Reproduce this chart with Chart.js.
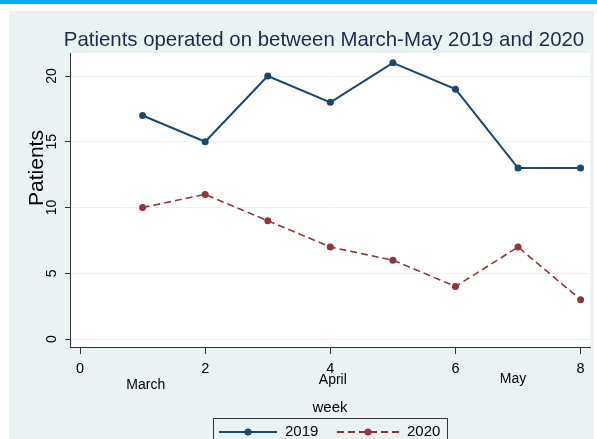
<!DOCTYPE html>
<html>
<head>
<meta charset="utf-8">
<script src="https://cdn.jsdelivr.net/npm/chart.js@4/dist/chart.umd.min.js"></script>
<style>
html,body{margin:0;padding:0;background:#fff;}
#wrap{width:597px;height:439px;position:relative;}
</style>
</head>
<body>
<div id="wrap"><canvas id="c" width="597" height="439"></canvas></div>
<script>
const weeks = [1, 2, 3, 4, 5, 6, 7, 8];
const patients2019 = [17, 15, 20, 18, 21, 19, 13, 13];
const patients2020 = [10, 11, 9, 7, 6, 4, 7, 3];
const seriesNames = ["2019", "2020"];
const xTicks = [0, 2, 4, 6, 8];
const yTicks = [0, 5, 10, 15, 20];
const monthLabels = ["March", "April", "May"];
const monthWeek = [1.05, 4.04, 6.92];

const FONT = '"Liberation Sans", Arial, sans-serif';
const NAVY = '#1a476f';
const MAROON = '#90353b';

const decor = {
  id: 'decor',
  beforeDraw(chart) {
    const ctx = chart.ctx, a = chart.chartArea;
    ctx.save();
    ctx.fillStyle = '#ffffff';
    ctx.fillRect(0, 0, 597, 439);
    ctx.fillStyle = '#00aeef';
    ctx.fillRect(0, 0, 597, 4);
    ctx.fillStyle = '#eaf2f3';
    ctx.fillRect(9, 11, 585, 428);
    ctx.fillStyle = '#ffffff';
    ctx.fillRect(a.left, a.top, a.right - a.left, a.bottom - a.top);
    ctx.restore();
  },
  afterDraw(chart) {
    const ctx = chart.ctx;
    const xs = chart.scales.x, ys = chart.scales.y;
    ctx.save();
    // title
    ctx.fillStyle = '#1c2a48';
    ctx.font = '20.4px ' + FONT;
    ctx.textAlign = 'center';
    ctx.textBaseline = 'alphabetic';
    ctx.fillText('Patients operated on between March-May 2019 and 2020', 324, 45.5);
    // y tick labels (rotated)
    ctx.fillStyle = '#000';
    ctx.font = '14px ' + FONT;
    yTicks.forEach(v => {
      ctx.save();
      ctx.translate(52, ys.getPixelForValue(v));
      ctx.rotate(-Math.PI / 2);
      ctx.textAlign = 'center';
      ctx.textBaseline = 'middle';
      ctx.fillText(String(v), 0, 0);
      ctx.restore();
    });
    // y axis title
    ctx.save();
    ctx.translate(37, 168);
    ctx.rotate(-Math.PI / 2);
    ctx.font = '21px ' + FONT;
    ctx.textAlign = 'center';
    ctx.textBaseline = 'middle';
    ctx.fillText('Patients', 0, 0);
    ctx.restore();
    // month labels
    ctx.font = '14px ' + FONT;
    ctx.textAlign = 'center';
    ctx.textBaseline = 'middle';
    const monthY = [385, 380.5, 379];
    monthLabels.forEach((m, i) => {
      ctx.fillText(m, xs.getPixelForValue(monthWeek[i]), monthY[i]);
    });
    // x axis title
    ctx.font = '15px ' + FONT;
    ctx.fillText('week', 330, 408);
    // legend
    ctx.strokeStyle = '#333';
    ctx.lineWidth = 1;
    ctx.strokeRect(213.5, 418.5, 234, 30);
    const ly = 432;
    const items = [
      {x0: 219, x1: 277, c: NAVY, dash: [], tx: 285},
      {x0: 337, x1: 399, c: MAROON, dash: [7, 4], tx: 407}
    ];
    items.forEach((it, i) => {
      ctx.strokeStyle = it.c;
      ctx.lineWidth = 2;
      ctx.setLineDash(it.dash);
      ctx.beginPath();
      ctx.moveTo(it.x0, ly);
      ctx.lineTo(it.x1, ly);
      ctx.stroke();
      ctx.setLineDash([]);
      ctx.fillStyle = it.c;
      ctx.beginPath();
      ctx.arc((it.x0 + it.x1) / 2, ly, 3.5, 0, Math.PI * 2);
      ctx.fill();
      ctx.fillStyle = '#000';
      ctx.font = '15px ' + FONT;
      ctx.textAlign = 'left';
      ctx.textBaseline = 'middle';
      ctx.fillText(seriesNames[i], it.tx, ly);
    });
    ctx.restore();
  }
};

new Chart(document.getElementById('c'), {
  type: 'line',
  data: {
    datasets: [
      {
        label: seriesNames[0],
        data: weeks.map((w, i) => ({x: w, y: patients2019[i]})),
        borderColor: NAVY,
        backgroundColor: NAVY,
        borderWidth: 2,
        pointRadius: 3.5,
        pointBorderWidth: 0,
        pointBackgroundColor: NAVY,
        tension: 0
      },
      {
        label: seriesNames[1],
        data: weeks.map((w, i) => ({x: w, y: patients2020[i]})),
        borderColor: MAROON,
        backgroundColor: MAROON,
        borderWidth: 1.6,
        borderDash: [7, 4],
        pointRadius: 3.5,
        pointBorderWidth: 0,
        pointBackgroundColor: MAROON,
        tension: 0
      }
    ]
  },
  options: {
    responsive: false,
    animation: false,
    layout: {padding: {left: 0, right: 7, top: 53, bottom: 0}},
    plugins: {legend: {display: false}, title: {display: false}, tooltip: {enabled: false}},
    scales: {
      x: {
        type: 'linear',
        min: -0.16,
        max: 8.15,
        afterBuildTicks: s => { s.ticks = xTicks.map(v => ({value: v})); },
        afterFit: s => { s.height = 92; },
        grid: {drawOnChartArea: false, drawTicks: true, tickLength: 7, tickColor: '#333', tickWidth: 1},
        border: {display: true, color: '#333', width: 1},
        ticks: {color: '#000', font: {family: FONT, size: 14.5}, padding: 6, maxRotation: 0, autoSkip: false}
      },
      y: {
        type: 'linear',
        min: -0.6,
        max: 21.75,
        afterBuildTicks: s => { s.ticks = yTicks.map(v => ({value: v})); },
        afterFit: s => { s.width = 70; },
        grid: {drawOnChartArea: true, color: '#eaf2f3', lineWidth: 1, drawTicks: true, tickLength: 5, tickColor: '#333'},
        border: {display: true, color: '#333', width: 1},
        ticks: {display: false}
      }
    }
  },
  plugins: [decor]
});
</script>
</body>
</html>
